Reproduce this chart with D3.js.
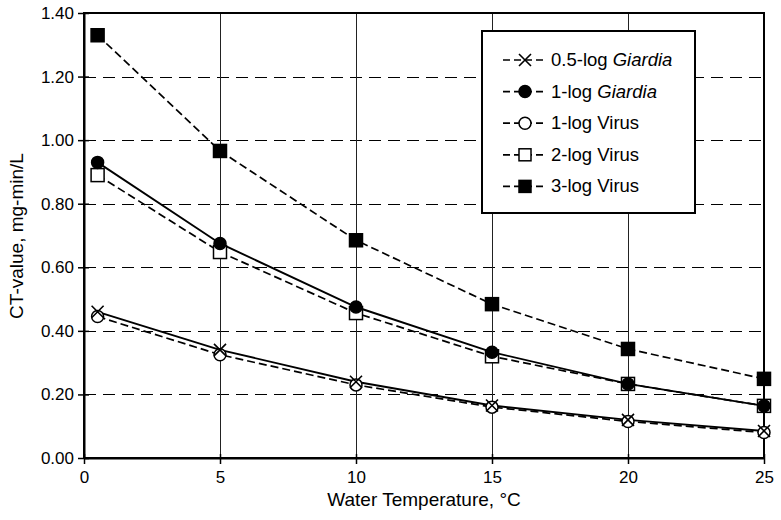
<!DOCTYPE html>
<html><head><meta charset="utf-8">
<script src="https://cdn.jsdelivr.net/npm/d3@7"></script>
<style>body{margin:0;background:#fff}svg{display:block}text{font-family:"Liberation Sans",Arial,sans-serif;fill:#000}</style>
</head><body><svg id="c" width="781" height="520"></svg>
<script>
const temps = [0.5, 5, 10, 15, 20, 25];
const giardia05 = [0.46, 0.34, 0.24, 0.165, 0.12, 0.085];
const giardia1 = [0.93, 0.675, 0.475, 0.333, 0.233, 0.164];
const virus1 = [0.445, 0.325, 0.23, 0.16, 0.115, 0.08];
const virus2 = [0.89, 0.648, 0.456, 0.32, 0.233, 0.164];
const virus3 = [1.33, 0.966, 0.685, 0.484, 0.343, 0.249];
const xTicks = [0, 5, 10, 15, 20, 25];
const yTicks = [0, 0.2, 0.4, 0.6, 0.8, 1.0, 1.2, 1.4];
const seriesNames = ["0.5-log Giardia", "1-log Giardia", "1-log Virus", "2-log Virus", "3-log Virus"];

const series = [
  {name: seriesNames[3], values: virus2, marker: "square", fill: "#fff", dash: "8,4"},
  {name: seriesNames[2], values: virus1, marker: "circle", fill: "#fff", dash: "8,4"},
  {name: seriesNames[4], values: virus3, marker: "square", fill: "#000", dash: "8,4"},
  {name: seriesNames[0], values: giardia05, marker: "x", fill: "none", dash: null},
  {name: seriesNames[1], values: giardia1, marker: "circle", fill: "#000", dash: null}
];

const svg = d3.select("#c");
const L = 84, R = 764, T = 13, B = 458;
const x = d3.scaleLinear().domain([0, 25]).range([L, R]);
const y = d3.scaleLinear().domain([0, 1.4]).range([B, T]);

// grid
svg.append("g").selectAll("line").data(yTicks.filter(d => d > 0 && d < 1.4)).join("line")
  .attr("x1", L).attr("x2", R).attr("y1", d => Math.round(y(d)) + 0.5).attr("y2", d => Math.round(y(d)) + 0.5)
  .attr("stroke", "#000").attr("stroke-width", 1).attr("stroke-dasharray", "12,7");
svg.append("g").selectAll("line").data(xTicks.filter(d => d > 0 && d < 25)).join("line")
  .attr("y1", T).attr("y2", B).attr("x1", d => Math.round(x(d)) + 0.5).attr("x2", d => Math.round(x(d)) + 0.5)
  .attr("stroke", "#222").attr("stroke-width", 1);

// frame
svg.append("rect").attr("x", L).attr("y", T).attr("width", R - L).attr("height", B - T)
  .attr("fill", "none").attr("stroke", "#000").attr("stroke-width", 2);

// axes
const ya = svg.append("g").attr("transform", `translate(${L},0)`)
  .call(d3.axisLeft(y).tickValues(yTicks).tickFormat(d3.format(".2f")).tickSizeInner(6).tickSizeOuter(0).tickPadding(4));
ya.select(".domain").attr("stroke-width", 2);
ya.selectAll(".tick line").attr("x2", 5).attr("x1", -6).attr("stroke-width", 1.5);
ya.selectAll("text").attr("font-size", 17).attr("font-family", "Liberation Sans, Arial, sans-serif");

const xa = svg.append("g").attr("transform", `translate(0,${B})`)
  .call(d3.axisBottom(x).tickValues(xTicks).tickSizeInner(5).tickSizeOuter(0).tickPadding(8));
xa.select(".domain").attr("stroke-width", 2);
xa.selectAll(".tick line").attr("y1", -4).attr("y2", 6).attr("stroke-width", 1.5);
xa.selectAll("text").attr("font-size", 17).attr("font-family", "Liberation Sans, Arial, sans-serif");

// axis titles
svg.append("text").attr("x", 424).attr("y", 506).attr("text-anchor", "middle").attr("font-size", 19)
  .text("Water Temperature, °C");
svg.append("text").attr("transform", "translate(23,236) rotate(-90)").attr("text-anchor", "middle").attr("font-size", 19)
  .text("CT-value, mg-min/L");

function drawMarker(g, type, fill, cx, cy, s) {
  if (type === "square") {
    g.append("rect").attr("x", cx - s/2).attr("y", cy - s/2).attr("width", s).attr("height", s)
      .attr("fill", fill).attr("stroke", "#000").attr("stroke-width", 1.5);
  } else if (type === "circle") {
    g.append("circle").attr("cx", cx).attr("cy", cy).attr("r", s/2)
      .attr("fill", fill).attr("stroke", "#000").attr("stroke-width", 1.5);
  } else {
    const h = s/2;
    g.append("path").attr("d", `M${cx-h},${cy-h}L${cx+h},${cy+h}M${cx-h},${cy+h}L${cx+h},${cy-h}`)
      .attr("stroke", "#000").attr("stroke-width", 1.6).attr("fill", "none");
  }
}

const line = d3.line().x(d => x(d[0])).y(d => y(d[1]));
series.forEach(s => {
  const pts = temps.map((t, i) => [t, s.values[i]]);
  svg.append("path").datum(pts).attr("d", line).attr("fill", "none").attr("stroke", "#000")
    .attr("stroke-width", s.dash ? 1.7 : 1.9).attr("stroke-dasharray", s.dash);
});
series.forEach(s => {
  const g = svg.append("g");
  temps.forEach((t, i) => drawMarker(g, s.marker, s.fill, x(t), y(s.values[i]), s.marker === "square" ? 13 : 12));
});

// legend
const lg = svg.append("g");
lg.append("rect").attr("x", 482).attr("y", 31).attr("width", 213).attr("height", 182)
  .attr("fill", "#fff").attr("stroke", "#000").attr("stroke-width", 2);
const legendItems = [
  {marker: "x", fill: "none", pre: "0.5-log ", it: "Giardia"},
  {marker: "circle", fill: "#000", pre: "1-log ", it: "Giardia"},
  {marker: "circle", fill: "#fff", pre: "1-log Virus", it: ""},
  {marker: "square", fill: "#fff", pre: "2-log Virus", it: ""},
  {marker: "square", fill: "#000", pre: "3-log Virus", it: ""}
];
legendItems.forEach((d, i) => {
  const cy = 60 + i * 31.6;
  lg.append("line").attr("x1", 503).attr("x2", 547).attr("y1", cy).attr("y2", cy)
    .attr("stroke", "#000").attr("stroke-width", 1.7).attr("stroke-dasharray", "7,4");
  drawMarker(lg, d.marker, d.fill, 525, cy, 12);
  const t = lg.append("text").attr("x", 551).attr("y", cy + 6).attr("font-size", 18.5);
  t.append("tspan").text(d.pre);
  if (d.it) t.append("tspan").attr("font-style", "italic").text(d.it);
});
</script></body></html>
